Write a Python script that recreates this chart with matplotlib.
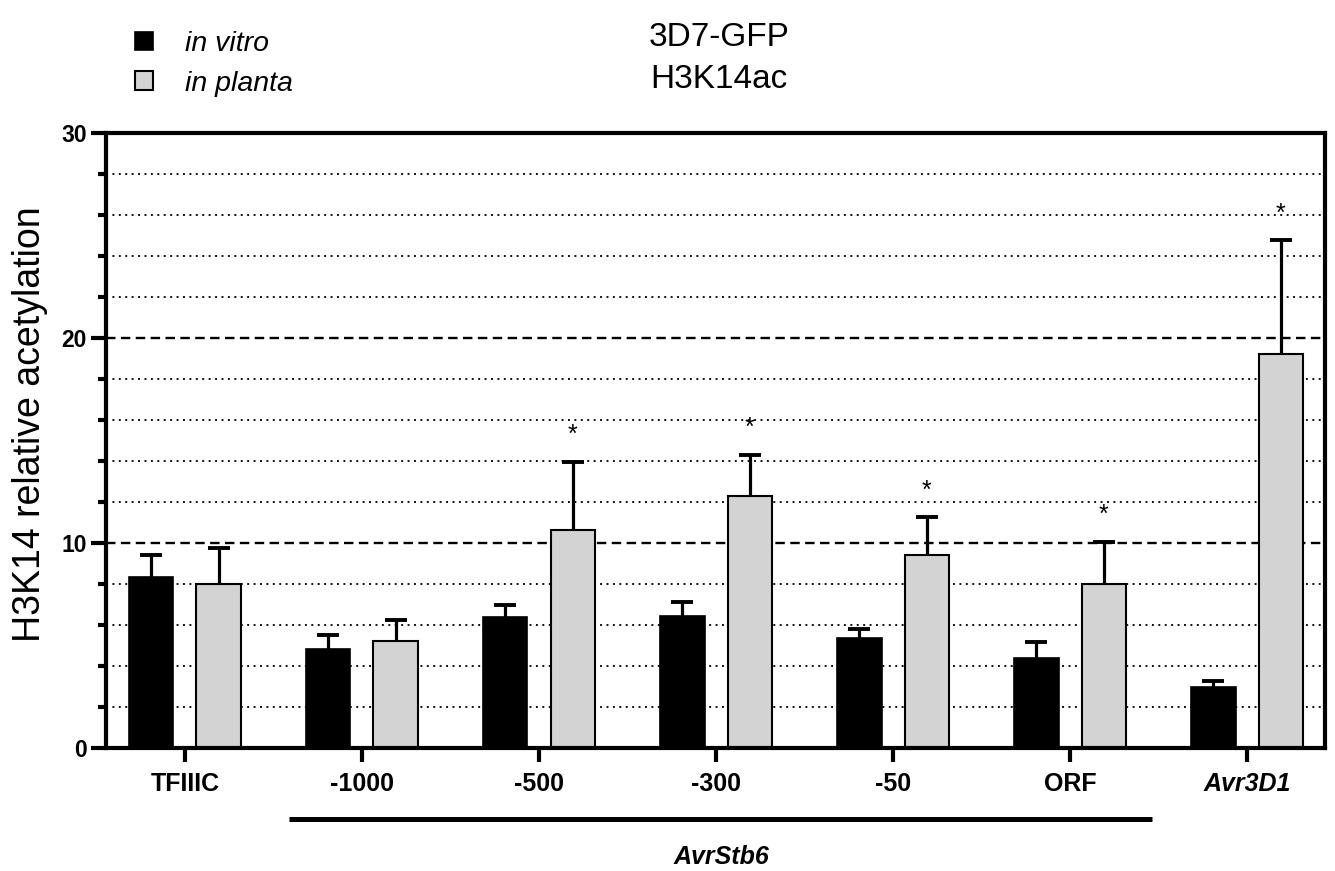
import matplotlib
matplotlib.use("Agg")
import matplotlib.pyplot as plt
import numpy as np
from matplotlib.patches import Patch
from matplotlib.transforms import blended_transform_factory

plt.rcParams['font.family'] = ['Liberation Sans', 'DejaVu Sans']

categories = ['TFIIIC', '-1000', '-500', '-300', '-50', 'ORF', 'Avr3D1']
in_vitro = [8.36, 4.85, 6.37, 6.44, 5.38, 4.37, 2.97]
in_vitro_err = [1.05, 0.66, 0.61, 0.70, 0.44, 0.80, 0.31]
in_planta = [7.98, 5.24, 10.63, 12.29, 9.43, 8.00, 19.22]
in_planta_err = [1.79, 1.00, 3.34, 2.02, 1.85, 2.07, 5.55]
significant = [False, False, True, True, True, True, True]
series_names = ['in vitro', 'in planta']
group_label = 'AvrStb6'
ylabel = 'H3K14 relative acetylation'
title_lines = ['3D7-GFP', 'H3K14ac']

W, H = 1335, 871
fig = plt.figure(figsize=(W / 100, H / 100), dpi=100)
ax = fig.add_axes([106 / W, 1 - 748 / H, (1325 - 106) / W, (748 - 133) / H])

x = np.arange(len(categories))
bw = 0.25
off = 0.19

# grid
for v in range(2, 30, 2):
    if v % 10 == 0:
        ax.axhline(v, color='black', lw=1.7, ls=(0, (4, 2.3)), zorder=0.5)
    else:
        ax.axhline(v, color='#111111', lw=1.4, ls=(0, (1, 2.3)), zorder=0.5)

xv = x - off
xp = x + off
ax.bar(xv, in_vitro, width=bw, color='black', edgecolor='black', lw=1.2, zorder=2)
ax.bar(xp, in_planta, width=bw, color='#d3d3d3', edgecolor='black', lw=1.5, zorder=2)

tops_v = np.array(in_vitro) + np.array(in_vitro_err)
tops_p = np.array(in_planta) + np.array(in_planta_err)
ax.vlines(xv, in_vitro, tops_v, color='black', lw=2.3, zorder=1.5)
ax.vlines(xp, in_planta, tops_p, color='black', lw=2.3, zorder=1.5)
ax.plot(xv, tops_v, ls='none', marker='_', ms=16, mew=2.8, color='black', zorder=3)
ax.plot(xp, tops_p, ls='none', marker='_', ms=16, mew=2.8, color='black', zorder=3)

for xi, t, s in zip(xp, tops_p, significant):
    if s:
        ax.text(xi, t + 0.7, '*', ha='center', va='bottom', fontsize=18, zorder=4)

ax.set_xlim(-0.446, 6.44)
ax.set_ylim(0, 30)
ax.set_yticks([0, 10, 20, 30])
ax.set_yticks(np.arange(0, 31, 2), minor=True)
ax.set_xticks(x)
ax.set_xticklabels(categories, fontsize=18, fontweight='bold')
ax.get_xticklabels()[-1].set_fontstyle('italic')
ax.tick_params(axis='y', which='major', length=11, width=3, labelsize=16.5, pad=3)
for lab in ax.get_yticklabels():
    lab.set_fontweight('bold')
ax.tick_params(axis='y', which='minor', length=5.5, width=3)
ax.tick_params(axis='x', which='major', length=10, width=3, pad=7)
for sp in ax.spines.values():
    sp.set_linewidth(3)
    sp.set_zorder(5)

ax.set_ylabel(ylabel, fontsize=27)
ax.yaxis.set_label_coords(-0.0476, 0.527)

# group line and label
trans = blended_transform_factory(ax.transData, ax.transAxes)
ax.plot([0.59, 5.46], [-0.1154, -0.1154], color='black', lw=3.6, transform=trans, clip_on=False,
        solid_capstyle='butt')
ax.text(3.03, -0.177, group_label, transform=trans, ha='center', va='center',
        fontsize=18, fontweight='bold', fontstyle='italic')

# title
fig.text(719 / W, 1 - 37 / H, title_lines[0], ha='center', va='center', fontsize=24)
fig.text(719 / W, 1 - 80 / H, title_lines[1], ha='center', va='center', fontsize=24)

# legend
handles = [Patch(facecolor='black', edgecolor='black', lw=1.2),
           Patch(facecolor='#d3d3d3', edgecolor='black', lw=1.5)]
leg = fig.legend(handles, series_names, loc='upper left', bbox_to_anchor=(135 / W, 1 - 31 / H),
                 frameon=False, borderpad=0, borderaxespad=0, handlelength=0.63, handleheight=0.63,
                 handletextpad=1.12, labelspacing=0.48, prop={'size': 20.5, 'style': 'italic'})

fig.savefig('out.png', dpi=100)
